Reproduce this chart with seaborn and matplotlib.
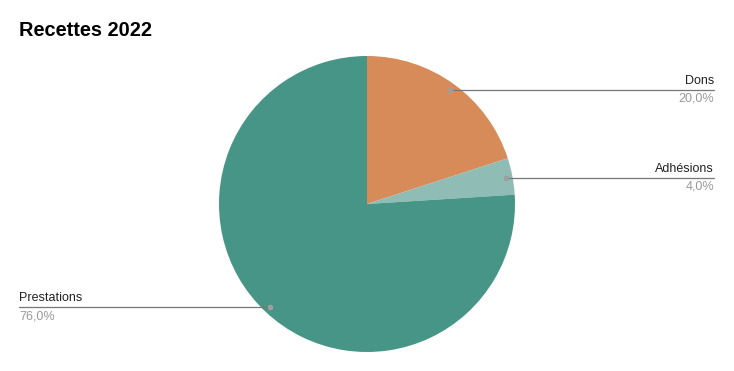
import numpy as np
import matplotlib
matplotlib.use("Agg")
import matplotlib.pyplot as plt
import seaborn as sns

categories = ["Dons", "Adhésions", "Prestations"]
values = [20.0, 4.0, 76.0]
colors = ["#D78B58", "#8FBDB5", "#469587"]

sns.set_theme(style="white")
plt.rcParams['font.family'] = ['Liberation Sans', 'DejaVu Sans']

W, H = 734, 371
fig = plt.figure(figsize=(W / 100, H / 100), dpi=100)
ax = fig.add_axes([0, 0, 1, 1])

cx, cy, R = 367, H - 204, 148
wedges, _ = ax.pie(values, colors=colors, startangle=90, counterclock=False,
                   center=(cx, cy), radius=R, frame=True,
                   wedgeprops=dict(linewidth=0))
ax.set_xlim(0, W)
ax.set_ylim(0, H)
ax.set_aspect('equal')
ax.axis('off')

fig.text(19 / W, 1 - 31 / H, "Recettes 2022", fontsize=14.4, fontweight='bold',
         color='#000000', va='center', ha='left')

for w, cat, v in zip(wedges, categories, values):
    mid = np.deg2rad((w.theta1 + w.theta2) / 2)
    dx, dy = cx + 0.955 * R * np.cos(mid), cy + 0.955 * R * np.sin(mid)
    ax.plot([dx], [dy], 'o', ms=3, color='#9E9E9E', zorder=5)
    lbl = f"{v:.1f}%".replace('.', ',')
    if np.cos(mid) >= 0:
        xe = 714
        ax.plot([dx, xe], [dy, dy], color='#777777', lw=0.9, zorder=4)
        ax.text(xe, dy + 3, cat, ha='right', va='bottom', fontsize=9, color='#222222')
        ax.text(xe, dy - 3, lbl, ha='right', va='top', fontsize=9, color='#999999')
    else:
        xs = 19
        ax.plot([xs, dx], [dy, dy], color='#777777', lw=0.9, zorder=4)
        ax.text(xs, dy + 3, cat, ha='left', va='bottom', fontsize=9, color='#222222')
        ax.text(xs, dy - 3, lbl, ha='left', va='top', fontsize=9, color='#999999')

fig.savefig("out.png", dpi=100, facecolor='white')
